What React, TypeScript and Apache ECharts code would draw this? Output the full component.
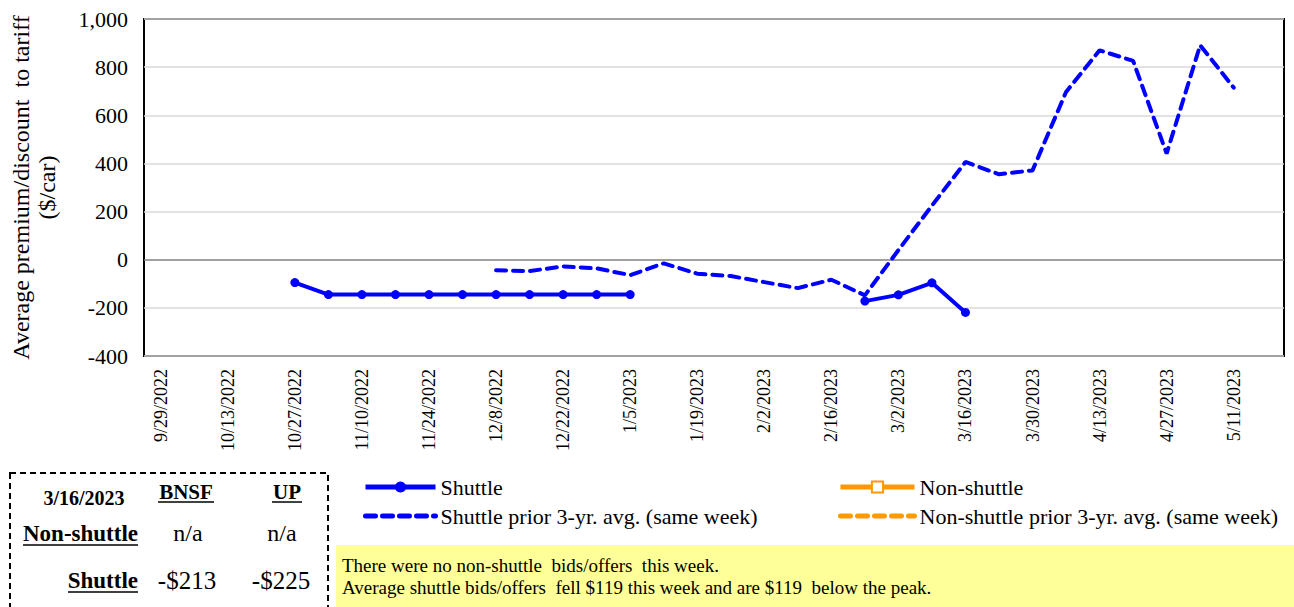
import React, { useEffect, useRef } from "react";
import * as echarts from "echarts";

const weeks = [
  "9/29/2022", "10/6/2022", "10/13/2022", "10/20/2022", "10/27/2022", "11/3/2022",
  "11/10/2022", "11/17/2022", "11/24/2022", "12/1/2022", "12/8/2022", "12/15/2022",
  "12/22/2022", "12/29/2022", "1/5/2023", "1/12/2023", "1/19/2023", "1/26/2023",
  "2/2/2023", "2/9/2023", "2/16/2023", "2/23/2023", "3/2/2023", "3/9/2023",
  "3/16/2023", "3/23/2023", "3/30/2023", "4/6/2023", "4/13/2023", "4/20/2023",
  "4/27/2023", "5/4/2023", "5/11/2023", "5/18/2023",
];

const shuttle = [
  null, null, null, null, -95, -145, -145, -145, -145, -145, -145, -145,
  -145, -145, -145, null, null, null, null, null, null, -172, -146, -96,
  -219, null, null, null, null, null, null, null, null, null,
];

const nonShuttle = weeks.map(() => null);

const shuttlePrior = [
  null, null, null, null, null, null, null, null, null, null, -44, -47,
  -28, -36, -64, -15, -58, -68, -93, -118, -83, -148, 40, 225,
  406, 355, 371, 697, 870, 826, 441, 891, 715, null,
];

const nonShuttlePrior = weeks.map(() => null);

const yTicks = [-400, -200, 0, 200, 400, 600, 800, 1000];

const tableDate = "3/16/2023";
const tableCols = ["BNSF", "UP"];
const tableNonShuttle = ["n/a", "n/a"];
const tableShuttle = ["-$213", "-$225"];

const noteLines = [
  "There were no non-shuttle  bids/offers  this week.",
  "Average shuttle bids/offers  fell $119 this week and are $119  below the peak.",
];

const FONT = "'Liberation Serif', 'Times New Roman', serif";
const BLUE = "#0000FF";
const ORANGE = "#FF9900";

export default function App() {
  const ref = useRef<HTMLDivElement>(null);

  useEffect(() => {
    if (!ref.current) return;
    const chart = echarts.init(ref.current, null, { renderer: "svg" });

    const splitColors = yTicks.map((v) => (v === 0 ? "#808080" : "#d9d9d9"));

    const txt = (x: number, y: number, text: string, bold: boolean, align: string, size = 20) => ({
      type: "text",
      x,
      y,
      style: {
        text,
        fill: "#000",
        font: `${bold ? "bold " : ""}${size}px ${FONT}`,
        textAlign: align,
        textVerticalAlign: "middle",
      },
    });
    const uline = (x1: number, x2: number, y: number) => ({
      type: "line",
      shape: { x1, y1: y, x2, y2: y },
      style: { stroke: "#000", lineWidth: 1.5 },
    });

    const legendText = { color: "#000", fontFamily: FONT, fontSize: 22 };

    const option: any = {
      animation: false,
      backgroundColor: "#fff",
      grid: {
        left: 139,
        top: 19,
        right: 10,
        bottom: 251,
        show: true,
        borderColor: "#000",
        borderWidth: 2,
        backgroundColor: "transparent",
      },
      xAxis: {
        type: "category",
        data: weeks,
        boundaryGap: true,
        axisLine: { show: false },
        axisTick: { show: false },
        splitLine: { show: false },
        axisLabel: {
          interval: 1,
          rotate: 90,
          margin: 13,
          color: "#000",
          fontFamily: FONT,
          fontSize: 18,
        },
      },
      yAxis: {
        type: "value",
        min: -400,
        max: 1000,
        interval: 200,
        name: "Average premium/discount  to tariff\n($/car)",
        nameLocation: "middle",
        nameGap: 84,
        nameTextStyle: { color: "#000", fontFamily: FONT, fontSize: 24, lineHeight: 26 },
        axisLine: { show: false },
        axisTick: { show: false },
        axisLabel: {
          color: "#000",
          fontFamily: FONT,
          fontSize: 22,
          margin: 16,
          formatter: (v: number) => v.toLocaleString("en-US"),
        },
        splitLine: { show: true, lineStyle: { color: splitColors, width: 1.5 } },
      },
      legend: [
        {
          left: 358,
          top: 471,
          orient: "vertical",
          itemWidth: 70,
          itemHeight: 14,
          itemGap: 7,
          textStyle: legendText,
          data: [
            { name: "Shuttle", lineStyle: { width: 5 }, itemStyle: { opacity: 1 } },
            {
              name: "Shuttle prior 3-yr. avg. (same week)",
              lineStyle: { width: 5 },
              itemStyle: { opacity: 0 },
            },
          ],
        },
        {
          left: 833,
          top: 471,
          orient: "vertical",
          itemWidth: 74,
          itemHeight: 14,
          itemGap: 7,
          textStyle: legendText,
          data: [
            { name: "Non-shuttle", lineStyle: { width: 5 } },
            {
              name: "Non-shuttle prior 3-yr. avg. (same week)",
              lineStyle: { width: 5 },
              itemStyle: { opacity: 0 },
            },
          ],
        },
      ],
      series: [
        {
          name: "Shuttle",
          type: "line",
          data: shuttle,
          connectNulls: false,
          symbol: "circle",
          symbolSize: 9,
          itemStyle: { color: BLUE },
          lineStyle: { color: BLUE, width: 4 },
          z: 5,
        },
        {
          name: "Non-shuttle",
          type: "line",
          data: nonShuttle,
          symbol: "emptyRect",
          symbolSize: 8,
          itemStyle: { color: ORANGE, borderColor: ORANGE, borderWidth: 1.5 },
          lineStyle: { color: ORANGE, width: 5 },
        },
        {
          name: "Shuttle prior 3-yr. avg. (same week)",
          type: "line",
          data: shuttlePrior,
          symbol: "none",
          itemStyle: { color: BLUE },
          lineStyle: { color: BLUE, width: 4, type: [10, 7], cap: "round" },
          z: 4,
        },
        {
          name: "Non-shuttle prior 3-yr. avg. (same week)",
          type: "line",
          data: nonShuttlePrior,
          symbol: "none",
          itemStyle: { color: ORANGE },
          lineStyle: { color: ORANGE, width: 4, type: [10, 7], cap: "round" },
        },
      ],
      graphic: [
        {
          type: "rect",
          shape: { x: 336, y: 545, width: 958, height: 62 },
          style: { fill: "#FFFF99" },
          silent: true,
        },
        txt(342, 565, noteLines[0], false, "left", 19),
        txt(342, 587, noteLines[1], false, "left", 19),
        {
          type: "rect",
          shape: { x: 10, y: 473, width: 318, height: 150 },
          style: { fill: "none", stroke: "#000", lineWidth: 2, lineDash: [6, 4] },
          silent: true,
        },
        txt(84, 498, tableDate, true, "center", 20),
        txt(186, 492, tableCols[0], true, "center", 21),
        uline(158, 214, 502),
        txt(287, 492, tableCols[1], true, "center", 21),
        uline(272, 302, 502),
        txt(138, 533, "Non-shuttle", true, "right", 23),
        uline(23, 138, 545),
        txt(188, 533, tableNonShuttle[0], false, "center", 24),
        txt(282, 533, tableNonShuttle[1], false, "center", 24),
        txt(138, 580, "Shuttle", true, "right", 23),
        uline(68, 138, 592),
        txt(187, 580, tableShuttle[0], false, "center", 25),
        txt(281, 580, tableShuttle[1], false, "center", 25),
      ],
    };

    chart.setOption(option);
    return () => chart.dispose();
  }, []);

  return (
    <div
      ref={ref}
      style={{ position: "fixed", left: 0, top: 0, width: 1294, height: 607, background: "#fff" }}
    />
  );
}
